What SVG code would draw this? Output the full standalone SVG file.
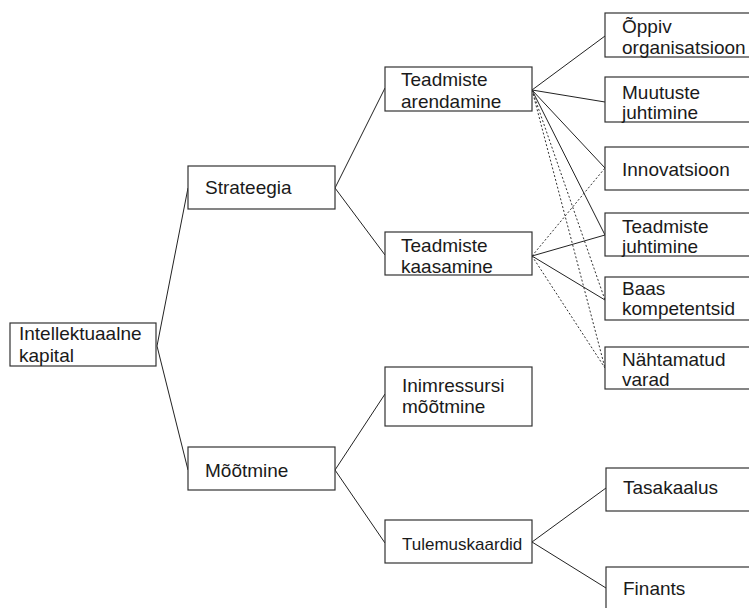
<svg xmlns="http://www.w3.org/2000/svg" width="749" height="608" viewBox="0 0 749 608">
  <style>
    .box { fill: #ffffff; stroke: #333333; stroke-width: 1.2; }
    .t { font-family: "Liberation Sans", Arial, Helvetica, sans-serif; font-size: 19px; fill: #1a1a1a; }
    .ts { font-size: 17px; }
    .ln { fill: none; stroke: #222222; stroke-width: 1; }
    .dot { fill: none; stroke: #333333; stroke-width: 1; stroke-dasharray: 2 2; }
  </style>
  <rect width="749" height="608" fill="#ffffff"/>

  <!-- connectors -->
  <g id="connectors">
    <path class="ln" d="M157 346 L188 188 M157 346 L188 470"/>
    <path class="ln" d="M335 188 L385 88 M335 188 L385 255"/>
    <path class="ln" d="M335 470 L385 394 M335 470 L385 543"/>
    <path class="ln" d="M532 542 L606 488 M532 542 L606 588"/>
    <path class="ln" d="M532 90 L605 36 M532 90 L605 102 M532 90 L605 168 M532 90 L605 235"/>
    <path class="dot" d="M532 90 L605 300 M532 90 L605 368"/>
    <path class="ln" d="M532 256 L605 235 M532 256 L605 300"/>
    <path class="dot" d="M532 256 L605 168 M532 256 L605 368"/>
  </g>

  <g id="intellektuaalne-kapital">
    <rect class="box" x="10" y="323" width="146" height="43"/>
    <text class="t" x="19" y="340">Intellektuaalne</text>
    <text class="t" x="19" y="362">kapital</text>
  </g>

  <g id="strateegia">
    <rect class="box" x="188" y="166" width="147" height="43"/>
    <text class="t" x="205" y="194">Strateegia</text>
  </g>

  <g id="mootmine">
    <rect class="box" x="188" y="447" width="147" height="43"/>
    <text class="t" x="205" y="477">Mõõtmine</text>
  </g>

  <g id="teadmiste-arendamine">
    <rect class="box" x="385" y="67" width="147" height="44"/>
    <text class="t" x="401" y="86">Teadmiste</text>
    <text class="t" x="401" y="108">arendamine</text>
  </g>

  <g id="teadmiste-kaasamine">
    <rect class="box" x="385" y="232" width="147" height="43"/>
    <text class="t" x="401" y="252">Teadmiste</text>
    <text class="t" x="401" y="273">kaasamine</text>
  </g>

  <g id="inimressursi-mootmine">
    <rect class="box" x="385" y="367" width="147" height="59"/>
    <text class="t" x="402" y="392">Inimressursi</text>
    <text class="t" x="402" y="413">mõõtmine</text>
  </g>

  <g id="tulemuskaardid">
    <rect class="box" x="385" y="520" width="147" height="43"/>
    <text class="t ts" x="402" y="550">Tulemuskaardid</text>
  </g>

  <g id="oppiv-organisatsioon">
    <rect class="box" x="605" y="13" width="160" height="44"/>
    <text class="t" x="622" y="33">Õppiv</text>
    <text class="t" x="622" y="54">organisatsioon</text>
  </g>

  <g id="muutuste-juhtimine">
    <rect class="box" x="605" y="77" width="160" height="45"/>
    <text class="t" x="622" y="99">Muutuste</text>
    <text class="t" x="622" y="119">juhtimine</text>
  </g>

  <g id="innovatsioon">
    <rect class="box" x="605" y="147" width="160" height="43"/>
    <text class="t" x="622" y="176">Innovatsioon</text>
  </g>

  <g id="teadmiste-juhtimine">
    <rect class="box" x="605" y="213" width="160" height="43"/>
    <text class="t" x="622" y="233">Teadmiste</text>
    <text class="t" x="622" y="253">juhtimine</text>
  </g>

  <g id="baas-kompetentsid">
    <rect class="box" x="605" y="277" width="160" height="43"/>
    <text class="t" x="622" y="295">Baas</text>
    <text class="t" x="622" y="315">kompetentsid</text>
  </g>

  <g id="nahtamatud-varad">
    <rect class="box" x="605" y="347" width="160" height="42"/>
    <text class="t" x="622" y="366">Nähtamatud</text>
    <text class="t" x="622" y="386">varad</text>
  </g>

  <g id="tasakaalus">
    <rect class="box" x="606" y="468" width="160" height="43"/>
    <text class="t" x="623" y="494">Tasakaalus</text>
  </g>

  <g id="finants">
    <rect class="box" x="606" y="567" width="160" height="60"/>
    <text class="t" x="623" y="595">Finants</text>
  </g>
</svg>
